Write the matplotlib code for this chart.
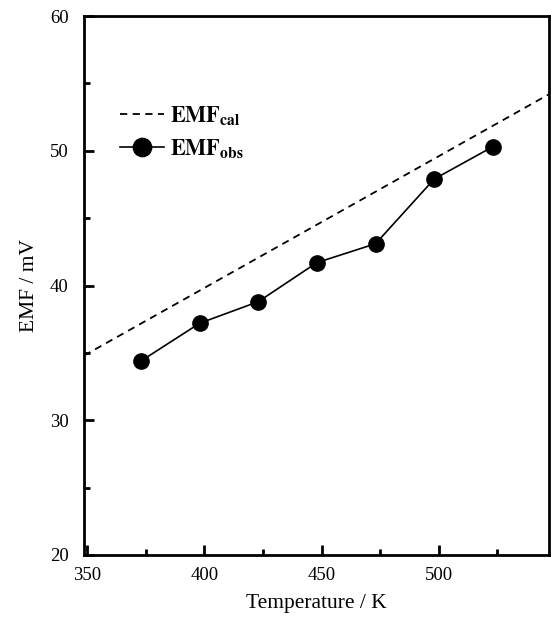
import matplotlib
matplotlib.use('Agg')
import matplotlib.pyplot as plt
from matplotlib.ticker import MultipleLocator

# 数据
temp_obs = [373, 398, 423, 448, 473, 498, 523]
emf_obs = [34.4, 37.2, 38.8, 41.7, 43.1, 47.9, 50.3]
temp_cal = [348.7, 547.0]
emf_cal = [34.8, 54.2]

plt.rcParams['font.family'] = ['Liberation Serif', 'DejaVu Serif']
plt.rcParams['mathtext.fontset'] = 'stix'

fig = plt.figure(figsize=(5.51, 6.17), dpi=100)
ax = fig.add_axes([0.1525, 0.1005, 0.844, 0.8735])

ax.plot(temp_cal, emf_cal, color='black', lw=1.3, ls=(0, (4, 3)),
        label=r'$\mathbf{EMF}_{\mathbf{cal}}$')
ax.plot(temp_obs, emf_obs, color='black', lw=1.2, marker='o', ms=11,
        label=r'$\mathbf{EMF}_{\mathbf{obs}}$')

ax.set_xlim(348.7, 547)
ax.set_ylim(20, 60)
ax.xaxis.set_major_locator(MultipleLocator(50))
ax.xaxis.set_minor_locator(MultipleLocator(25))
ax.yaxis.set_major_locator(MultipleLocator(10))
ax.yaxis.set_minor_locator(MultipleLocator(5))
ax.tick_params(which='both', direction='in', width=2, labelsize=13.5)
ax.tick_params(axis='x', which='both', pad=9)
ax.tick_params(axis='y', which='both', pad=11)
ax.tick_params(which='major', length=7)
ax.tick_params(which='minor', length=4)
for s in ax.spines.values():
    s.set_linewidth(2)

ax.set_xlabel('Temperature / K', fontsize=15.5, labelpad=7)
ax.set_ylabel('EMF / mV', fontsize=15.5, labelpad=8)

leg = ax.legend(loc='upper left', bbox_to_anchor=(0.035, 0.874), frameon=False,
                fontsize=16, handlelength=1.95, handletextpad=0.3, labelspacing=0.45,
                markerscale=1.2)

fig.savefig('out.png', dpi=100)
